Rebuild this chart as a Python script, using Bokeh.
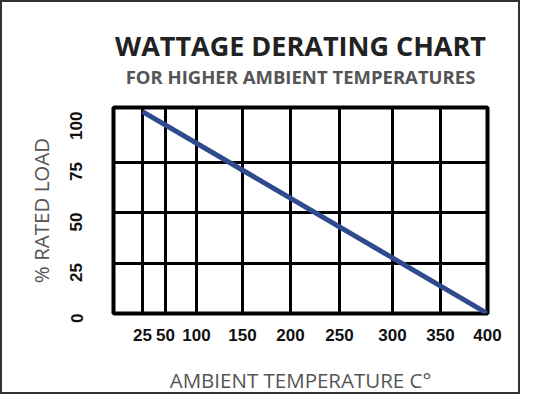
import numpy as np
from bokeh.plotting import figure
from bokeh.models import FixedTicker, Title, Range1d, LinearAxis
from bokeh.embed import file_html
from bokeh.resources import INLINE

# Data
temp_ticks = [25, 50, 100, 150, 200, 250, 300, 350, 400]
# the chart's own (uneven) temperature scale: axis position of each tick
temp_axis_pos = [29, 52, 83, 129, 177, 226, 279, 327, 374]
load_ticks = [0, 25, 50, 75, 100]
line_temp = [25, 400]
line_load = [100, 0]

title_text = "WATTAGE DERATING CHART"
subtitle_text = "FOR HIGHER AMBIENT TEMPERATURES"
x_label = "AMBIENT TEMPERATURE C°"
y_label = "% RATED LOAD"

line_x = np.interp(line_temp, temp_ticks, temp_axis_pos)

p = figure(width=520, height=394, output_backend="svg", toolbar_location=None,
           x_range=Range1d(0, 374), y_range=Range1d(0, 102),
           min_border_left=111, min_border_right=35,
           min_border_top=105, min_border_bottom=76,
           title=None)
p.styles = {"border": "2px solid #333333"}

p.line(line_x, line_load, line_color="#2f4b8e", line_width=5)

p.outline_line_color = "black"
p.outline_line_width = 4
p.background_fill_color = "white"
p.border_fill_color = "white"

xaxis = p.below[0]
yaxis = p.left[0]

xaxis.ticker = FixedTicker(ticks=temp_axis_pos)
xaxis.major_label_overrides = {pos: str(t) for pos, t in zip(temp_axis_pos, temp_ticks)}
xaxis.axis_label = x_label
yaxis.ticker = FixedTicker(ticks=load_ticks)
yaxis.axis_label = y_label
yaxis.major_label_orientation = np.pi / 2

for ax in (xaxis, yaxis):
    ax.axis_line_color = None
    ax.major_tick_line_color = None
    ax.minor_tick_line_color = None
    ax.major_label_text_font = "Liberation Sans"
    ax.major_label_text_font_style = "bold"
    ax.major_label_text_font_size = "17px"
    ax.major_label_text_color = "#111111"
    ax.axis_label_text_font = "Open Sans"
    ax.axis_label_text_font_style = "normal"
    ax.axis_label_text_font_size = "20.5px"
    ax.axis_label_text_color = "#555555"

xaxis.major_label_standoff = 9
xaxis.axis_label_standoff = 22
yaxis.major_label_standoff = 31
yaxis.axis_label_standoff = 7

p.xgrid.ticker = FixedTicker(ticks=temp_axis_pos[:-1])
p.ygrid.ticker = FixedTicker(ticks=[25, 50, 75])
for g in (p.xgrid, p.ygrid):
    g.grid_line_color = "black"
    g.grid_line_width = 3
    g.grid_line_alpha = 1.0

# subtitle, drawn as the label of a tick-less axis above the frame
sub_axis = LinearAxis(ticker=FixedTicker(ticks=[]), axis_line_color=None,
                      major_tick_line_color=None, minor_tick_line_color=None,
                      axis_label=subtitle_text, axis_label_standoff=19,
                      axis_label_text_font="Open Sans", axis_label_text_font_size="18.5px",
                      axis_label_text_font_style="bold", axis_label_text_color="#555555")
p.add_layout(sub_axis, "above")

main = Title(text=title_text, align="center", text_font="Open Sans",
             text_font_size="27px", text_font_style="bold", text_color="#222222",
             standoff=-7)
p.add_layout(main, "above")

open("out.html", "w").write(file_html(p, INLINE))
